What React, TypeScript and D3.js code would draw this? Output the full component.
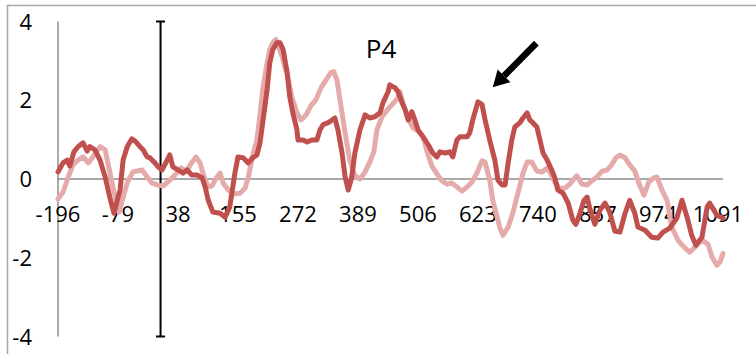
import React from 'react';
import * as d3 from 'd3';

const W = 756;
const H = 354;

const xTicks = [-196, -79, 38, 155, 272, 389, 506, 623, 740, 857, 974, 1091];
const yTicks = [-4, -2, 0, 2, 4];

// [time (ms), amplitude]
const darkSeries: [number, number][] = [
  [-196, 0.18], [-186, 0.41], [-178, 0.48], [-173, 0.33], [-165, 0.69], [-157, 0.82], [-147, 0.92],
  [-139, 0.71], [-134, 0.82], [-124, 0.74], [-114, 0.48], [-104, 0.05], [-95, -0.46], [-87, -0.87],
  [-75, -0.28], [-69, 0.48], [-61, 0.82], [-52, 1.02], [-46, 0.97], [-36, 0.82], [-30, 0.74],
  [-22, 0.56], [-17, 0.54], [-7, 0.41], [-1, 0.31], [7, 0.23], [17, 0.48], [22, 0.61], [28, 0.31],
  [38, 0.23], [48, 0.15], [56, 0.23], [65, 0.1], [75, 0.1], [85, 0.03], [91, -0.2], [97, -0.54],
  [106, -0.84], [120, -0.87], [130, -0.97], [139, -0.71], [149, 0.15], [155, 0.56], [165, 0.54],
  [175, 0.41], [184, 0.54], [192, 0.61], [198, 0.92], [204, 1.5], [212, 2.29], [217, 2.95],
  [223, 3.29], [231, 3.46], [237, 3.46], [243, 3.29], [251, 2.7], [256, 2.09], [262, 1.68],
  [270, 1.25], [272, 0.99], [282, 0.99], [290, 0.94], [299, 0.99], [309, 0.99], [315, 1.25],
  [321, 1.38], [331, 1.43], [344, 1.55], [350, 1.25], [358, 0.66], [364, 0.05], [370, -0.28],
  [377, 0.05], [383, 0.66], [393, 1.25], [403, 1.63], [412, 1.55], [422, 1.58], [432, 1.68],
  [438, 1.94], [448, 2.22], [451, 2.39], [461, 2.32], [467, 2.22], [475, 1.94], [481, 1.76],
  [487, 1.5], [494, 1.71], [500, 1.5], [506, 1.25], [516, 1.07], [526, 0.87], [535, 0.66],
  [543, 0.56], [549, 0.69], [559, 0.66], [568, 0.69], [574, 0.56], [582, 0.99], [588, 1.07],
  [602, 1.07], [607, 1.17], [613, 1.5], [623, 1.96], [631, 1.89], [637, 1.5], [646, 0.99],
  [656, 0.48], [662, -0.03], [670, -0.15], [676, -0.15], [682, 0.41], [689, 0.99], [695, 1.32],
  [705, 1.43], [711, 1.55], [719, 1.68], [724, 1.5], [730, 1.43], [738, 1.32], [744, 0.99],
  [750, 0.66], [758, 0.48], [767, 0.23], [773, 0.03], [779, -0.28], [789, -0.36], [799, -0.61],
  [808, -1.04], [814, -1.15], [822, -0.87], [830, -0.54], [836, -0.46], [841, -0.74], [851, -1.15],
  [861, -0.79], [871, -0.61], [880, -0.84], [890, -1.32], [900, -1.35], [910, -0.87], [919, -0.54],
  [929, -0.87], [935, -1.22], [949, -1.3], [962, -1.48], [974, -1.5], [984, -1.35], [997, -1.25],
  [1011, -0.99], [1021, -0.54], [1031, -0.97], [1040, -1.43], [1048, -1.68], [1060, -1.48],
  [1070, -0.71], [1075, -0.61], [1089, -0.92], [1101, -0.99],
];

const lightSeries: [number, number][] = [
  [-196, -0.51], [-186, -0.33], [-176, 0.05], [-167, 0.36], [-157, 0.48], [-147, 0.56], [-137, 0.41],
  [-128, 0.56], [-114, 0.82], [-104, 0.74], [-98, 0.36], [-89, -0.2], [-77, -0.84], [-61, -0.1],
  [-50, 0.18], [-32, 0.23], [-22, 0.05], [-13, -0.1], [-3, -0.15], [9, -0.18], [22, -0.03],
  [34, 0.13], [44, 0.28], [54, 0.2], [63, 0.38], [73, 0.56], [81, 0.41], [89, 0.05], [97, -0.2],
  [104, -0.18], [114, 0.05], [120, 0.15], [126, -0.1], [136, -0.28], [147, -0.38], [159, -0.36],
  [169, -0.23], [176, 0.1], [184, 0.61], [192, 0.99], [198, 1.63], [204, 2.34], [212, 2.96],
  [217, 3.29], [223, 3.46], [229, 3.54], [241, 3.11], [251, 2.65], [260, 2.09], [270, 1.68],
  [278, 1.5], [288, 1.63], [297, 1.86], [307, 2.01], [317, 2.32], [327, 2.52], [336, 2.7],
  [342, 2.73], [348, 2.52], [354, 2.01], [364, 1.17], [373, 0.48], [383, 0.08], [393, 0.0],
  [403, 0.18], [412, 0.43], [420, 0.69], [426, 1.25], [436, 1.58], [448, 1.78], [457, 1.91],
  [467, 2.06], [471, 2.22], [477, 1.91], [487, 1.55], [496, 1.3], [506, 1.22], [516, 1.07],
  [524, 0.69], [533, 0.33], [543, 0.13], [553, -0.05], [563, -0.13], [572, -0.1], [582, -0.2],
  [592, -0.31], [602, -0.2], [611, -0.08], [621, 0.15], [631, 0.46], [637, 0.43], [646, -0.03],
  [652, -0.54], [660, -0.94], [666, -1.25], [672, -1.43], [682, -1.22], [691, -0.87], [701, -0.36],
  [711, 0.15], [719, 0.43], [728, 0.43], [738, 0.2], [748, 0.18], [758, 0.28], [763, 0.18],
  [773, -0.08], [783, -0.25], [793, -0.23], [802, -0.13], [810, 0.0], [816, 0.08], [826, -0.13],
  [836, -0.15], [845, -0.05], [855, 0.05], [865, 0.2], [875, 0.23], [884, 0.36], [892, 0.54],
  [900, 0.61], [910, 0.54], [919, 0.36], [929, 0.2], [939, -0.18], [947, -0.41], [956, -0.08],
  [966, 0.03], [972, 0.05], [982, -0.28], [992, -0.54], [1001, -1.22], [1013, -1.55], [1025, -1.73],
  [1036, -1.86], [1048, -1.71], [1060, -1.55], [1072, -1.66], [1079, -1.96], [1089, -2.19],
  [1095, -2.11], [1101, -1.89],
];

// vertical marker bar (time, from / to)
const markerTime = 4;
const markerRange: [number, number] = [-4, 4];

// annotation: label and arrow (data units)
const labelText = 'P4';
const labelPos: [number, number] = [434, 3.33];
const arrowTail: [number, number] = [737, 3.45];
const arrowTip: [number, number] = [652, 2.33];

const darkColor = '#C0504D';
const lightColor = '#E4ABAA';
const font = '"Open Sans", "Liberation Sans", sans-serif';

export default function App() {
  const x = d3.scaleLinear().domain([-196, 1101]).range([58, 723]);
  const y = d3.scaleLinear().domain([-4, 4]).range([336.5, 21.5]);

  const line = d3
    .line<[number, number]>()
    .x((d) => x(d[0]))
    .y((d) => y(d[1]));

  const tx = x(arrowTail[0]);
  const ty = y(arrowTail[1]);
  const px = x(arrowTip[0]);
  const py = y(arrowTip[1]);
  const ang = Math.atan2(py - ty, px - tx);
  const headLen = 16;
  const headHalf = 9;
  const bx = px - headLen * Math.cos(ang);
  const by = py - headLen * Math.sin(ang);
  const nx = -Math.sin(ang);
  const ny = Math.cos(ang);

  return (
    <svg
      width={W}
      height={H}
      style={{ position: 'absolute', left: 0, top: 0, background: '#fff' }}
    >
      <rect x={7.5} y={5.5} width={760} height={360} fill="#fff" stroke="#a6a6a6" strokeWidth={1.5} />

      {/* y axis */}
      <line x1={x(-196)} x2={x(-196)} y1={y(4)} y2={y(-4)} stroke="#8c8c8c" strokeWidth={1.5} />
      {/* zero line */}
      <line x1={x(-196)} x2={x(1101)} y1={y(0)} y2={y(0)} stroke="#8c8c8c" strokeWidth={1.5} />

      {yTicks.map((t) => (
        <text key={t} x={32} y={y(t) + 8} textAnchor="end" fontFamily={font} fontSize={22} fill="#000">
          {t}
        </text>
      ))}
      {xTicks.map((t) => (
        <text key={t} x={x(t)} y={222} textAnchor="middle" fontFamily={font} fontSize={22} fill="#000">
          {t}
        </text>
      ))}

      {/* marker bar */}
      <g stroke="#000" strokeWidth={2}>
        <line x1={x(markerTime)} x2={x(markerTime)} y1={y(markerRange[1])} y2={y(markerRange[0])} />
        <line x1={x(markerTime) - 4.5} x2={x(markerTime) + 4.5} y1={y(markerRange[1])} y2={y(markerRange[1])} />
        <line x1={x(markerTime) - 4.5} x2={x(markerTime) + 4.5} y1={y(markerRange[0])} y2={y(markerRange[0])} />
      </g>

      <path d={line(lightSeries) || ''} fill="none" stroke={lightColor} strokeWidth={5} strokeLinejoin="round" strokeLinecap="round" />
      <path d={line(darkSeries) || ''} fill="none" stroke={darkColor} strokeWidth={5} strokeLinejoin="round" strokeLinecap="round" />

      <text x={x(labelPos[0])} y={y(labelPos[1]) + 10} textAnchor="middle" fontFamily={font} fontSize={26} fill="#000">
        {labelText}
      </text>

      {/* arrow */}
      <line x1={tx} y1={ty} x2={bx} y2={by} stroke="#000" strokeWidth={6.5} />
      <polygon
        points={`${px},${py} ${bx + nx * headHalf},${by + ny * headHalf} ${bx - nx * headHalf},${by - ny * headHalf}`}
        fill="#000"
      />
    </svg>
  );
}
